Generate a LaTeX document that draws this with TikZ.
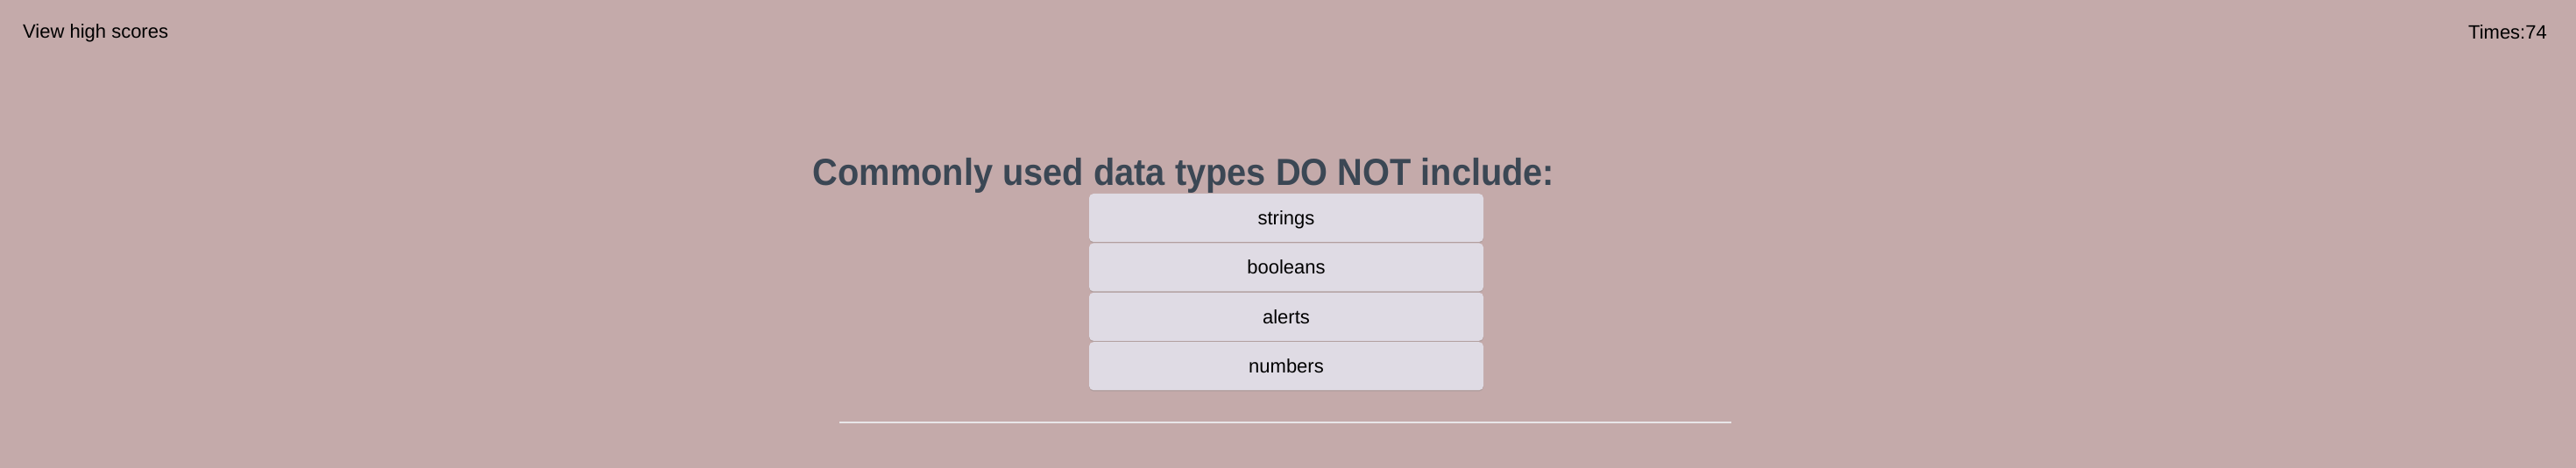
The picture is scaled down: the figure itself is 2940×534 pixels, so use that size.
\documentclass[tikz,border=0pt]{standalone}
\usepackage{fontspec}
\setmainfont{Liberation Sans}
\newfontfamily\titlefont[FakeStretch=0.925]{Liberation Sans}
\usepackage{xcolor}
\usepackage{tikz}
\usetikzlibrary{positioning,shadows}

\definecolor{bgpink}{HTML}{C4AAAA}
\definecolor{btnfill}{HTML}{DFDBE4}
\definecolor{titlegray}{HTML}{3B4754}
\definecolor{rulegray}{HTML}{E8E6E8}

\tikzset{
    choice/.style={draw=none, fill=btnfill, rounded corners=5pt, minimum width=450pt,
        minimum height=55pt, inner sep=0pt, text height=16pt, text depth=0pt,
        font=\fontsize{22pt}{24pt}\selectfont,
        drop shadow={opacity=0.25, shadow xshift=0pt, shadow yshift=-1.5pt}},
    toptext/.style={anchor=base, inner sep=0pt, font=\fontsize{22pt}{24pt}\selectfont}
}

\begin{document}
\begin{tikzpicture}[x=1pt, y=-1pt]
    % Page
    \fill[bgpink] (0,0) rectangle (2940,534);

    % Header
    \node[toptext, anchor=base west] (scores) at (26,44) {View high scores};
    \node[toptext, anchor=base east] (timer) at (2907,45) {Times:74};

    % Question
    \node[anchor=base, inner sep=0pt, text=titlegray,
        font=\titlefont\bfseries\fontsize{43pt}{46pt}\selectfont] (question) at (1351,212)
        {Commonly used data types DO NOT include:};

    % Answers
    \node[choice] (strings) at (1468,248.5) {strings};
    \node[choice, below=1pt of strings] (booleans) {booleans};
    \node[choice, below=1pt of booleans] (alerts) {alerts};
    \node[choice, below=1pt of alerts] (numbers) {numbers};

    % Divider
    \draw[rulegray, line width=2.5pt] (958,482) -- (1976,482);
\end{tikzpicture}
\end{document}
